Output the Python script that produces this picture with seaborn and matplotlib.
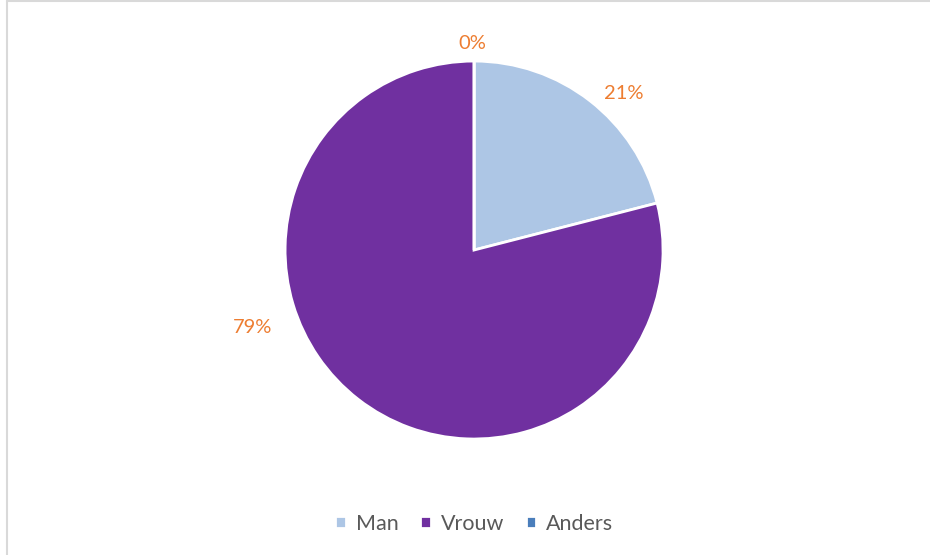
import matplotlib
matplotlib.use('Agg')
import matplotlib.pyplot as plt
from matplotlib.lines import Line2D
import seaborn as sns

# data
categories = ['Man', 'Vrouw', 'Anders']
values = [21, 79, 0]
colors = ['#ADC6E5', '#7030A0', '#4A7EBB']

sns.set_theme(style='white')
plt.rcParams['font.family'] = ['Lato', 'DejaVu Sans']

fig = plt.figure(figsize=(9.3, 5.55), dpi=100)
ax = fig.add_axes([0.3065, 0.209, 0.4065, 0.681])

wedges, texts, autotexts = ax.pie(
    values, colors=colors, startangle=90, counterclock=False,
    autopct=lambda p: f'{p:.0f}%',
    wedgeprops=dict(edgecolor='white', linewidth=2),
    textprops=dict(color='#ED7D31', fontsize=14.5),
)
ax.set_xlim(-1, 1)
ax.set_ylim(-1, 1)
ax.set_aspect('equal')

# label placement (excel "best fit" style)
label_pos = [(0.79, 0.83), (-1.17, -0.41), (-0.01, 1.095)]
for t, (px, py) in zip(autotexts, label_pos):
    t.set_position((px, py))
    t.set_ha('center')
    t.set_va('center')

leg = fig.legend(wedges, categories, loc='center', bbox_to_anchor=(0.51, 0.056),
                 ncol=3, frameon=False, handlelength=0.5, handleheight=0.5,
                 handletextpad=0.45, columnspacing=1.0, fontsize=15.5)
for t in leg.get_texts():
    t.set_color('#595959')

# chart border (partially cropped)
fig.add_artist(Line2D([0.0075, 1], [0.998, 0.998], transform=fig.transFigure, color='#D9D9D9', lw=1.5))
fig.add_artist(Line2D([0.0075, 0.0075], [0, 0.998], transform=fig.transFigure, color='#D9D9D9', lw=1.5))

fig.savefig('out.png', dpi=100)
